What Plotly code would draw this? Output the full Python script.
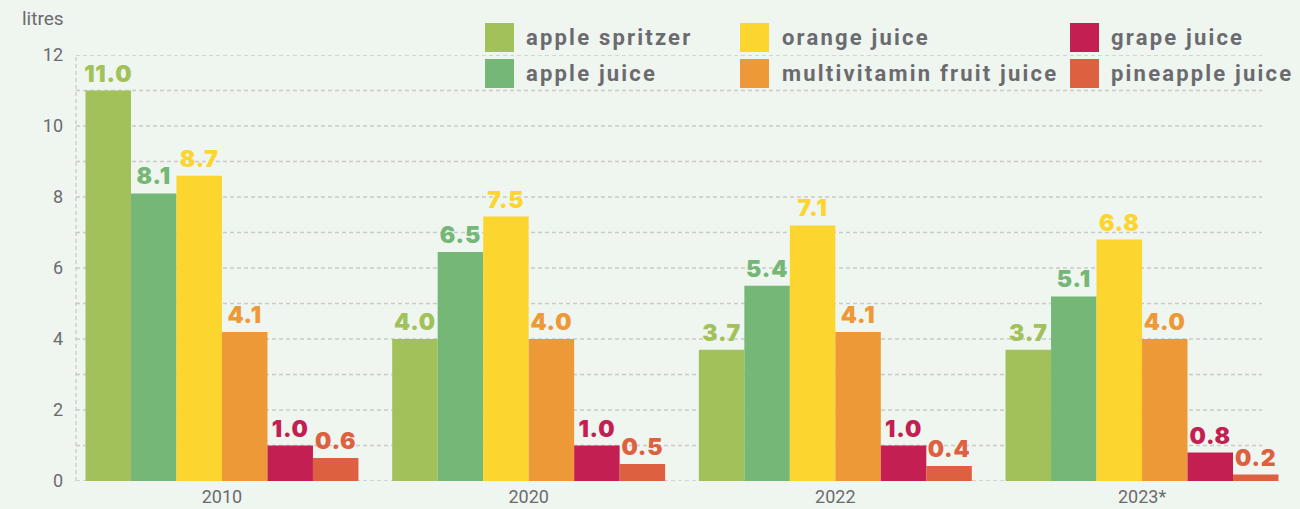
import plotly.graph_objects as go

years = ["2010", "2020", "2022", "2023*"]
series_names = ["apple spritzer", "apple juice", "orange juice",
                "multivitamin fruit juice", "grape juice", "pineapple juice"]
# bar heights as drawn
apple_spritzer = [11.0, 4.0, 3.7, 3.7]
apple_juice = [8.1, 6.45, 5.5, 5.2]
orange_juice = [8.6, 7.45, 7.2, 6.8]
multivitamin = [4.2, 4.0, 4.2, 4.0]
grape_juice = [1.0, 1.0, 1.0, 0.8]
pineapple_juice = [0.65, 0.48, 0.42, 0.18]
# value labels as printed
apple_spritzer_lbl = ["11.0", "4.0", "3.7", "3.7"]
apple_juice_lbl = ["8.1", "6.5", "5.4", "5.1"]
orange_juice_lbl = ["8.7", "7.5", "7.1", "6.8"]
multivitamin_lbl = ["4.1", "4.0", "4.1", "4.0"]
grape_juice_lbl = ["1.0", "1.0", "1.0", "0.8"]
pineapple_juice_lbl = ["0.6", "0.5", "0.4", "0.2"]

series_values = [apple_spritzer, apple_juice, orange_juice,
                 multivitamin, grape_juice, pineapple_juice]
series_labels = [apple_spritzer_lbl, apple_juice_lbl, orange_juice_lbl,
                 multivitamin_lbl, grape_juice_lbl, pineapple_juice_lbl]
colors = ["#a2c15a", "#74b777", "#fdd52f", "#ee9937", "#c41f52", "#dd6140"]
y_ticks = [0, 2, 4, 6, 8, 10, 12]

W, H = 1300, 509
ML, MR, MT, MB = 76, 12, 55, 28
PW, PH = W - ML - MR, H - MT - MB
GRAY = "#6b6b6f"
BG = "#eff5ef"

def px_x(px):
    return (px - ML) / PW

def px_y(py):
    return (H - MB - py) / PH

fig = go.Figure()
for name, vals, lbls, col in zip(series_names, series_values, series_labels, colors):
    fig.add_trace(go.Bar(
        name=name, x=years, y=vals, marker_color=col, marker_line_width=0,
        text=lbls, textposition="outside",
        texttemplate="<span style='letter-spacing:0.8px'>%{text}</span>",
        textfont=dict(family="Inter", size=23, color=col, weight=900),
        constraintext="none", cliponaxis=False, showlegend=False,
    ))

shapes = []
grid_right = px_x(1262)
for v in range(0, 13):
    shapes.append(dict(type="line", xref="paper", yref="y", x0=0, x1=grid_right,
                       y0=v, y1=v, layer="below",
                       line=dict(color="#c9cbc9", width=1.3, dash="4px,3px")))
shapes.append(dict(type="line", xref="paper", yref="y", x0=0, x1=0, y0=0, y1=12,
                   layer="below", line=dict(color="#c9cbc9", width=1.3, dash="4px,3px")))

# custom legend
legend_layout = [  # (series index, swatch left px, text left px, row)
    (0, 485, 524, 0), (2, 740, 780, 0), (4, 1070, 1109, 0),
    (1, 485, 524, 1), (3, 740, 780, 1), (5, 1070, 1109, 1),
]
row_top = [23, 59]
annotations = []
for idx, sx, tx, row in legend_layout:
    t = row_top[row]
    shapes.append(dict(type="rect", xref="paper", yref="paper",
                       x0=px_x(sx), x1=px_x(sx + 29), y0=px_y(t + 29), y1=px_y(t),
                       fillcolor=colors[idx], line_width=0, layer="above"))
    annotations.append(dict(xref="paper", yref="paper", x=px_x(tx), y=px_y(t + 14.5),
                            xanchor="left", yanchor="middle", showarrow=False,
                            text=f"<span style='letter-spacing:2.2px'>{series_names[idx]}</span>",
                            font=dict(family="Roboto", size=22, color=GRAY, weight=700)))

annotations.append(dict(xref="paper", yref="paper", x=px_x(66), y=px_y(19),
                        xanchor="right", yanchor="middle", showarrow=False,
                        text="litres", font=dict(family="Roboto", size=19, color=GRAY)))

fig.update_layout(
    width=W, height=H,
    margin=dict(l=ML, r=MR, t=MT, b=MB, pad=0, autoexpand=False),
    paper_bgcolor=BG, plot_bgcolor=BG,
    barmode="group", bargap=0.11, bargroupgap=0,
    shapes=shapes, annotations=annotations,
    xaxis=dict(showgrid=False, showline=False, zeroline=False, ticks="",
               range=[-0.476, 3.476], automargin=False, ticklabelstandoff=3,
               tickfont=dict(family="Roboto", size=18, color=GRAY)),
    yaxis=dict(range=[0, 12], tickvals=y_ticks, showgrid=False, zeroline=False,
               showline=False, ticks="", ticklabelstandoff=12, automargin=False,
               tickfont=dict(family="Roboto", size=18, color=GRAY)),
    showlegend=False,
)

fig.write_html("out.html", config={"displayModeBar": False},
               post_script="document.body.style.margin='0';document.body.style.overflow='hidden';")
